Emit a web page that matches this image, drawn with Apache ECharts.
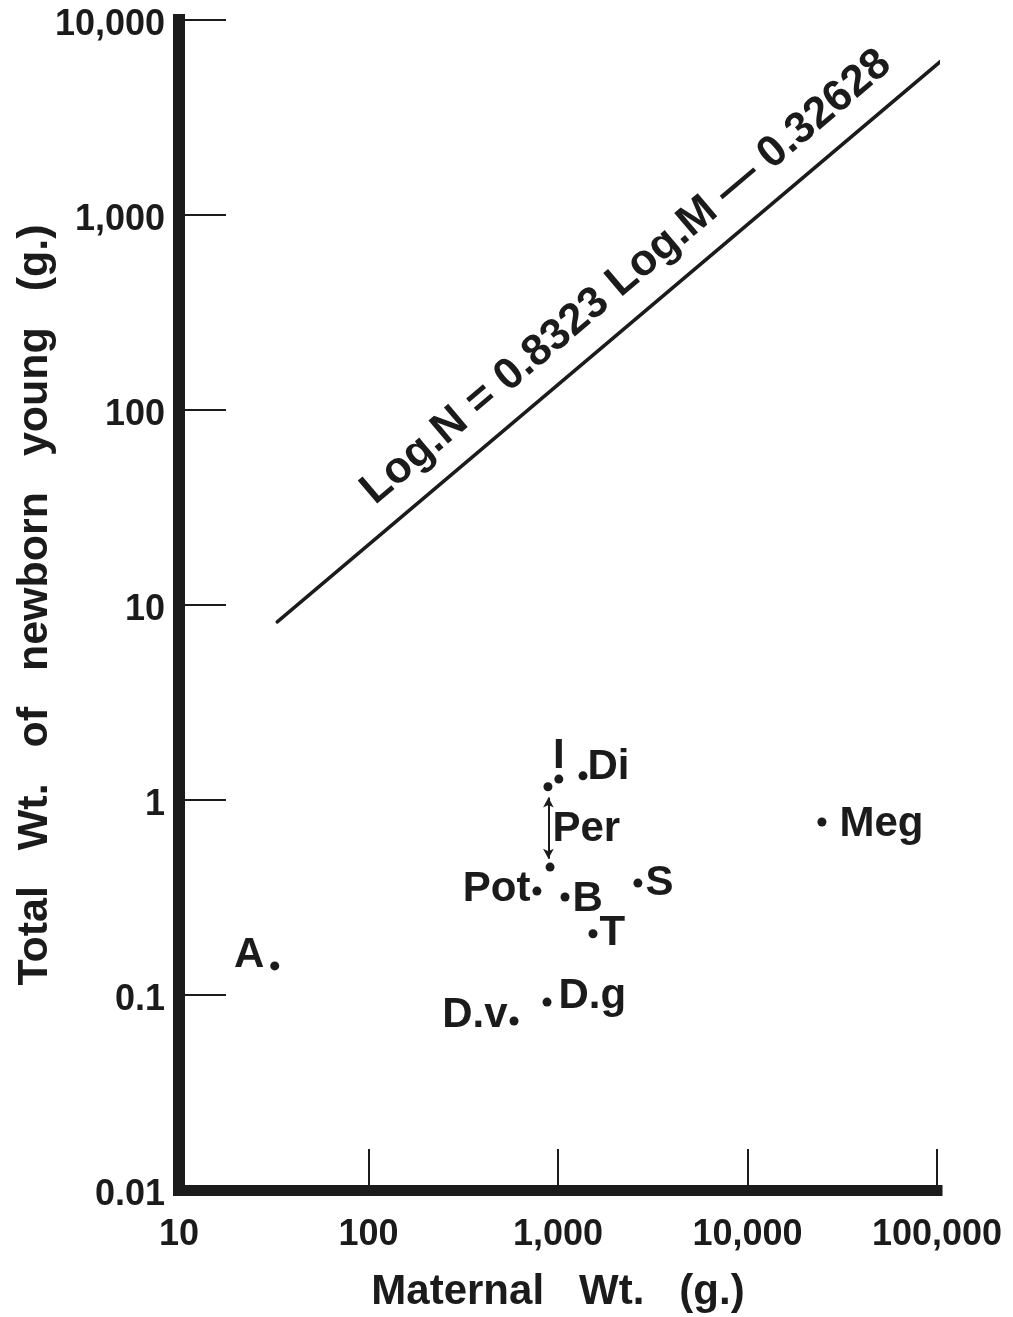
<!DOCTYPE html>
<html>
<head>
<meta charset="utf-8">
<script src="https://cdn.jsdelivr.net/npm/echarts@6/dist/echarts.min.js"></script>
<style>
  html, body { margin: 0; padding: 0; background: #ffffff; }
  #chart { width: 1013px; height: 1317px; }
</style>
</head>
<body>
<div id="chart"></div>
<script>
// Axis tick labels (log scale, one per decade)
const xTickLabels = ['10', '100', '1,000', '10,000', '100,000'];
const yTickLabels = ['0.01', '0.1', '1', '10', '100', '1,000', '10,000'];

// Species: maternal weight (g) vs total weight of newborn young (g)
const speciesNames = ['A', 'I', 'Per', 'Per', 'Di', 'Pot', 'B', 'S', 'T', 'D.g', 'D.v', 'Meg'];
const maternalWt  = [32, 1010, 885, 908, 1355, 774, 1089, 2640, 1530, 875, 586, 24700];
const newbornWt   = [0.141, 1.28, 1.17, 0.453, 1.33, 0.341, 0.318, 0.375, 0.206, 0.092, 0.0736, 0.771];

// Range bar for Per (double arrow between its two values)
const perRangeX = [890, 890];
const perRangeY = [1.03, 0.50];

// Fitted regression line end points
const fitX = [33, 110000];
const fitY = [8.2, 6400];
const fitText = 'Log.N = 0.8323 Log.M — 0.32628';

const FONT = 'Liberation Sans, Arial, sans-serif';
const INK = '#1b1b1b';

// Label placement for each species point
const labelLayout = [
  { position: 'left', distance: 6, offset: [0, -10] },         // A
  { position: 'inside', distance: 0, offset: [0, -23] },       // I
  { position: 'right', distance: 0, offset: [0, 43] },         // Per (upper)
  { show: false },                                             // Per (lower)
  { position: 'right', distance: 0, offset: [0, -8] },         // Di
  { position: 'left', distance: 2, offset: [0, -2] },          // Pot
  { position: 'right', distance: 3, offset: [0, 2] },          // B
  { position: 'right', distance: 3, offset: [0, 0] },          // S
  { position: 'right', distance: 2, offset: [0, 0] },          // T
  { position: 'right', distance: 7, offset: [0, -6] },         // D.g
  { position: 'left', distance: 2, offset: [0, -6] },          // D.v
  { position: 'right', distance: 13, offset: [0, 2] }          // Meg
];

const points = speciesNames.map((n, i) => {
  const lay = labelLayout[i];
  return {
    name: n,
    value: [maternalWt[i], newbornWt[i]],
    label: {
      show: lay.show !== false,
      position: lay.position,
      distance: lay.distance,
      offset: lay.offset
    }
  };
});

const chart = echarts.init(document.getElementById('chart'), null, { renderer: 'canvas' });

const option = {
  backgroundColor: '#ffffff',
  animation: false,
  grid: {
    left: 179, top: 20, width: 758, height: 1170,
    containLabel: false,
    outerBoundsMode: 'none'
  },
  xAxis: {
    type: 'log',
    logBase: 10,
    min: 10,
    max: 100000,
    name: 'Maternal   Wt.   (g.)',
    nameLocation: 'middle',
    nameGap: 81,
    nameMoveOverlap: false,
    nameTextStyle: { fontFamily: FONT, fontSize: 42, fontWeight: 'bold', color: INK },
    axisLine: { lineStyle: { color: INK, width: 11, cap: 'square' } },
    axisTick: { inside: true, length: 41, lineStyle: { color: INK, width: 2 } },
    minorTick: { show: false },
    splitLine: { show: false },
    axisLabel: {
      margin: 27,
      fontFamily: FONT, fontSize: 36, fontWeight: 'bold', color: INK,
      formatter: (v, i) => xTickLabels[i]
    }
  },
  yAxis: {
    type: 'log',
    logBase: 10,
    min: 0.01,
    max: 10000,
    name: 'Total   Wt.   of   newborn   young   (g.)',
    nameLocation: 'middle',
    nameRotate: 90,
    nameGap: 122,
    nameMoveOverlap: false,
    nameTextStyle: { fontFamily: FONT, fontSize: 43, fontWeight: 'bold', color: INK },
    axisLine: { lineStyle: { color: INK, width: 12, cap: 'square' } },
    axisTick: { inside: true, length: 47, lineStyle: { color: INK, width: 2 } },
    splitLine: { show: false },
    axisLabel: {
      margin: 14,
      verticalAlign: 'top',
      lineHeight: 10,
      fontFamily: FONT, fontSize: 36, fontWeight: 'bold', color: INK,
      formatter: (v, i) => yTickLabels[i]
    }
  },
  series: [
    {
      type: 'line',
      data: fitX.map((x, i) => [x, fitY[i]]),
      showSymbol: false,
      symbol: 'none',
      clip: false,
      lineStyle: { color: INK, width: 3.5, cap: 'round' },
      silent: true,
      z: 3
    },
    {
      type: 'scatter',
      data: points,
      symbol: 'circle',
      symbolSize: 9,
      itemStyle: { color: INK, opacity: 1 },
      label: {
        show: true,
        formatter: '{b}',
        fontFamily: FONT, fontSize: 42, fontWeight: 'bold', color: INK, opacity: 1
      },
      markLine: {
        silent: true,
        symbol: ['arrow', 'arrow'],
        symbolSize: [8, 10],
        label: { show: false },
        lineStyle: { color: INK, width: 2, type: 'solid', opacity: 1 },
        data: [[
          { coord: [perRangeX[0], perRangeY[0]] },
          { coord: [perRangeX[1], perRangeY[1]] }
        ]]
      },
      z: 4
    }
  ]
};

chart.setOption(option);

// Equation text set along the fitted line, a little above it
const p1 = chart.convertToPixel({ gridIndex: 0 }, [fitX[0], fitY[0]]);
const p2 = chart.convertToPixel({ gridIndex: 0 }, [fitX[1], fitY[1]]);
const dx = p2[0] - p1[0], dy = p2[1] - p1[1];
const len = Math.sqrt(dx * dx + dy * dy);
const ux = dx / len, uy = dy / len;
const nx = uy, ny = -ux;                   // normal pointing up-left
const along = 52, above = 38;
const cx = (p1[0] + p2[0]) / 2 + ux * along + nx * above;
const cy = (p1[1] + p2[1]) / 2 + uy * along + ny * above;
const angle = Math.atan2(-dy, dx);

chart.setOption({
  graphic: [{
    type: 'text',
    x: cx,
    y: cy,
    rotation: angle,
    style: {
      text: fitText,
      fontFamily: FONT,
      fontSize: 44,
      fontWeight: 'bold',
      fill: INK,
      align: 'center',
      verticalAlign: 'middle'
    },
    z: 10
  }]
});
</script>
</body>
</html>
